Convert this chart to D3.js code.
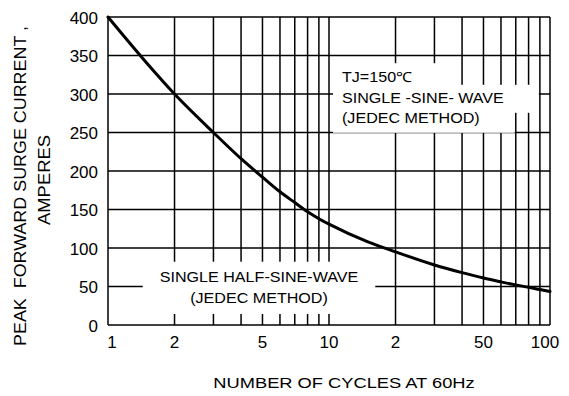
<!DOCTYPE html>
<html>
<head>
<meta charset="utf-8">
<title>Peak forward surge current</title>
<script src="https://d3js.org/d3.v7.min.js"></script>
<style>
  body { margin: 0; background: #fff; }
  text { font-family: "Liberation Sans", Arial, sans-serif; fill: #000; }
</style>
</head>
<body>
<svg id="chart" width="569" height="396"></svg>
<script>
// curve
const cycles  = [1,   1.5, 2,   3,   4,   5,   6,   7,   8,   9,   10,  15,  20, 30, 40, 50, 60, 70, 80, 90, 100];
const amps    = [400, 340, 300, 250, 216, 192, 173, 159, 147, 138, 131, 108, 95, 78, 68, 61, 56, 52, 49, 46, 43.5];

const yTicks = [0, 50, 100, 150, 200, 250, 300, 350, 400];
const xGrid = [1, 2, 3, 4, 5, 6, 7, 8, 9, 10, 20, 30, 40, 50, 60, 70, 80, 90, 100];
const xTickValues = [1, 2, 5, 10, 20, 50, 100];
const xTickLabels = ["1", "2", "5", "10", "2", "50", "100"];

const yTitle = ["PEAK\u00a0\u00a0FORWARD SURGE CURRENT ,", "AMPERES"];
const xTitle = "NUMBER OF CYCLES AT 60Hz";
const noteTop = ["TJ=150\u2103", "SINGLE -SINE- WAVE", "(JEDEC METHOD)"];
const noteBottom = ["SINGLE HALF-SINE-WAVE", "(JEDEC METHOD)"];

const plotLeft = 108, plotRight = 550, plotTop = 17, plotBottom = 325;

const svg = d3.select("#chart");

const x = d3.scaleLog().domain([1, 100]).range([plotLeft, plotRight]);
const y = d3.scaleLinear().domain([0, 400]).range([plotBottom, plotTop]);

// grid
const grid = svg.append("g").attr("stroke", "#000").attr("stroke-width", 1.5);
grid.selectAll("line.v").data(xGrid).enter().append("line")
  .attr("class", "v")
  .attr("x1", d => x(d)).attr("x2", d => x(d))
  .attr("y1", plotTop).attr("y2", plotBottom);
grid.selectAll("line.h").data(yTicks).enter().append("line")
  .attr("class", "h")
  .attr("x1", plotLeft).attr("x2", plotRight)
  .attr("y1", d => y(d)).attr("y2", d => y(d));

// tick labels
svg.append("g").selectAll("text").data(yTicks).enter().append("text")
  .attr("x", plotLeft - 10)
  .attr("y", d => y(d) + 1)
  .attr("text-anchor", "end")
  .attr("dominant-baseline", "central")
  .attr("font-size", 17)
  .text(d => d);

svg.append("g").selectAll("text").data(xTickValues).enter().append("text")
  .attr("x", (d, i) => x(d) + (i === 0 ? 4 : i === xTickValues.length - 1 ? -5 : 0))
  .attr("y", 348)
  .attr("text-anchor", "middle")
  .attr("font-size", 17)
  .text((d, i) => xTickLabels[i]);

// stretched text helper (the original lettering is a little wide)
function label(g, str, px, py, size, stretch, anchor, rot) {
  return g.append("text")
    .attr("transform", `translate(${px},${py}) rotate(${rot || 0}) scale(${stretch},1)`)
    .attr("text-anchor", anchor)
    .attr("dominant-baseline", "central")
    .attr("font-size", size)
    .text(str);
}

// axis titles
const titles = svg.append("g");
label(titles, yTitle[0], 21, 186, 16, 1.12, "middle", -90);
label(titles, yTitle[1], 44, 180, 16, 1.15, "middle", -90);
label(titles, xTitle, 344, 383, 15.5, 1.18, "middle");

// notes with white backing that breaks the grid
function note(lines, px, cys, anchor, perLine) {
  const g = svg.append("g");
  const bg = g.append("g");
  const txt = g.append("g");
  const boxes = lines.map((s, i) => {
    const t = label(txt, s, px, cys[i], 14, 1.15, anchor);
    return t.node().getBoundingClientRect();
  });
  if (perLine) {
    boxes.forEach((b, i) => {
      bg.append("rect")
        .attr("x", b.left - 9).attr("y", cys[i] - 13.5)
        .attr("width", b.width + 9 + 35).attr("height", 28)
        .attr("fill", "#fff");
    });
  } else {
    const x0 = d3.min(boxes, b => b.left) - 17;
    const x1 = d3.max(boxes, b => b.right) + 17;
    bg.append("rect")
      .attr("x", x0).attr("y", cys[0] - 15)
      .attr("width", x1 - x0).attr("height", cys[cys.length - 1] + 16 - (cys[0] - 15))
      .attr("fill", "#fff");
  }
}
note(noteTop, 342, [76.7, 98.3, 118.3], "start", true);
note(noteBottom, 259, [276.7, 298], "middle", false);

// curve
const line = d3.line()
  .x((d, i) => x(cycles[i]))
  .y(d => y(d))
  .curve(d3.curveMonotoneX);
svg.append("path")
  .datum(amps)
  .attr("fill", "none")
  .attr("stroke", "#000")
  .attr("stroke-width", 3)
  .attr("stroke-linecap", "round")
  .attr("d", line);
</script>
</body>
</html>
